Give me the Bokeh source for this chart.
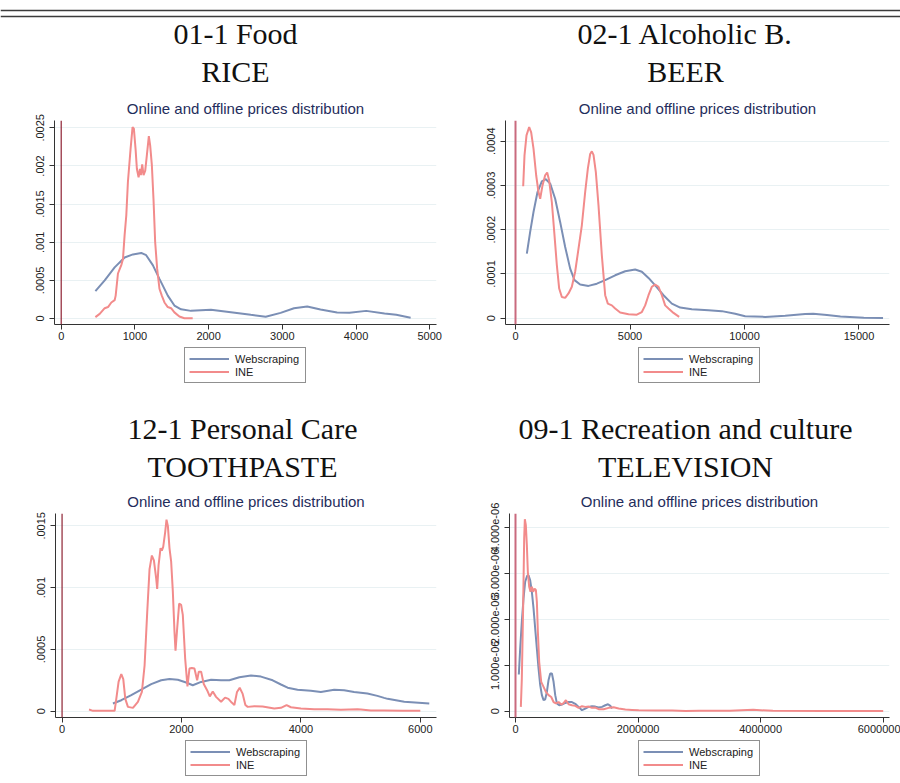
from bokeh.plotting import figure
from bokeh.models import Range1d, FixedTicker, Span, Label, Legend, LegendItem
from bokeh.layouts import column, row
from bokeh.embed import file_html
from bokeh.resources import INLINE

# ---------------- data ----------------
series_names = ["Webscraping", "INE"]
subtitle = "Online and offline prices distribution"

rice_title = ["01-1 Food", "RICE"]
rice_web_x = [464, 590, 725, 860, 973, 1086, 1153, 1243, 1333, 1446, 1536, 1626, 1761, 2032, 2302, 2572,
              2775, 2977, 3158, 3338, 3518, 3743, 3911, 4138, 4387, 4546, 4741]
rice_web_y = [0.000358, 0.0005, 0.00067, 0.0008, 0.00084, 0.00086, 0.00083, 0.0007, 0.00052, 0.0003, 0.00017,
              0.00012, 0.0001, 0.000114, 0.000083, 0.000048, 0.000022, 0.000074, 0.000135, 0.000157, 0.000118,
              0.000079, 0.000075, 0.0001, 0.000066, 0.000048, 0.000009]
rice_ine_x = [464, 522, 590, 635, 680, 725, 739, 770, 815, 838, 860, 883, 905, 941, 968, 986, 1009, 1027, 1050,
              1068, 1081, 1099, 1117, 1140, 1162, 1189, 1207, 1230, 1252, 1275, 1302, 1333, 1365, 1401, 1446,
              1491, 1536, 1604, 1671, 1784]
rice_ine_y = [0.0000175, 0.00006, 0.000135, 0.00015, 0.00021, 0.00024, 0.0003, 0.00059, 0.0007, 0.00078, 0.00109,
              0.00135, 0.00179, 0.00222, 0.00251, 0.00249, 0.00222, 0.00196, 0.00185, 0.00196, 0.00188, 0.00202,
              0.00188, 0.00194, 0.00214, 0.00239, 0.00227, 0.00201, 0.00157, 0.001, 0.00065, 0.00039, 0.0003,
              0.00021, 0.00015, 0.000135, 0.00008, 0.000026, 0.000004, 0.000004]
rice_xticks = [0, 1000, 2000, 3000, 4000, 5000]
rice_xlabels = ["0", "1000", "2000", "3000", "4000", "5000"]
rice_yticks = [0, 0.0005, 0.001, 0.0015, 0.002, 0.0025]
rice_ylabels = ["0", ".0005", ".001", ".0015", ".002", ".0025"]

beer_title = ["02-1 Alcoholic B.", "BEER"]
beer_web_x = [495, 640, 786, 961, 1150, 1325, 1514, 1732, 1951, 2169, 2387, 2576, 2824, 3188, 3552, 3916, 4352,
              4789, 5226, 5517, 5808, 6099, 6463, 6827, 7191, 7700, 8428, 9010, 9593, 10029, 10902, 11776, 12649,
              13000, 13600, 14190, 15210, 16050]
beer_web_y = [0.000146, 0.000195, 0.00024, 0.000285, 0.000309, 0.000314, 0.000304, 0.00027, 0.000217, 0.000161,
              0.000112, 0.000086, 0.000076, 0.000073, 0.000078, 0.000086, 0.000097, 0.000106, 0.00011, 0.000105,
              0.000091, 0.000074, 0.000052, 0.000033, 0.000024, 0.00002, 0.000018, 0.000016, 0.00001, 0.0000045,
              0.000003, 0.0000053, 0.0000095, 0.00001, 0.0000075, 0.0000038, 0.0000008, 0.0000003]
beer_ine_x = [335, 393, 480, 597, 684, 786, 902, 1004, 1077, 1179, 1295, 1383, 1470, 1587, 1703, 1805, 1907, 2023,
              2169, 2314, 2460, 2605, 2751, 2897, 3042, 3159, 3261, 3333, 3406, 3508, 3624, 3770, 3916, 4032, 4207,
              4352, 4571, 4935, 5298, 5517, 5662, 5808, 5953, 6099, 6244, 6390, 6535, 6681, 6899, 7147]
beer_ine_y = [0.000298, 0.000368, 0.000413, 0.000432, 0.00042, 0.000383, 0.000323, 0.000285, 0.00027, 0.0003,
              0.000323, 0.000329, 0.000311, 0.000262, 0.000187, 0.00012, 0.000067, 0.000048, 0.000046, 0.000056,
              0.000071, 0.000105, 0.000157, 0.00021, 0.000285, 0.000338, 0.000371, 0.000377, 0.000369, 0.00033,
              0.000255, 0.000142, 0.000052, 0.000033, 0.000029, 0.000022, 0.000013, 0.000009, 0.000008, 0.000014,
              0.000029, 0.000052, 0.000071, 0.000076, 0.000071, 0.000052, 0.000029, 0.000022, 0.000012, 0.000003]
beer_xticks = [0, 5000, 10000, 15000]
beer_xlabels = ["0", "5000", "10000", "15000"]
beer_yticks = [0, 0.0001, 0.0002, 0.0003, 0.0004]
beer_ylabels = ["0", ".0001", ".0002", ".0003", ".0004"]

tooth_title = ["12-1 Personal Care", "TOOTHPASTE"]
tooth_web_x = [852, 992, 1159, 1326, 1493, 1660, 1799, 1939, 2078, 2189, 2329, 2496, 2663, 2802, 2969, 3164, 3331,
               3527, 3666, 3777, 3944, 4167, 4334, 4557, 4724, 4891, 5114, 5281, 5393, 5452, 5731, 6150]
tooth_web_y = [0.000062, 0.000089, 0.00013, 0.000175, 0.000219, 0.00025, 0.00026, 0.000254, 0.000232, 0.00021,
               0.000237, 0.000254, 0.00025, 0.00025, 0.000275, 0.000289, 0.00028, 0.00025, 0.000216, 0.00019,
               0.000173, 0.000165, 0.000156, 0.000173, 0.00017, 0.000156, 0.000143, 0.000124, 0.000108, 0.0001,
               0.000076, 0.000062]
tooth_ine_x = [451, 518, 657, 880, 908, 947, 992, 1025, 1059, 1103, 1187, 1270, 1337, 1382, 1426, 1465, 1504, 1538,
               1577, 1593, 1616, 1649, 1671, 1694, 1727, 1749, 1772, 1799, 1827, 1855, 1883, 1900, 1928, 1961, 1994,
               2022, 2061, 2100, 2134, 2173, 2217, 2262, 2290, 2329, 2373, 2429, 2474, 2524, 2579, 2663, 2730, 2786,
               2841, 2886, 2930, 2975, 3025, 3070, 3109, 3220, 3359, 3554, 3666, 3760, 3833, 4000, 4223, 4446, 4669,
               4947, 5005, 5170, 5393, 5700, 6000]
tooth_ine_y = [0.0000135, 0.000003, 0.000003, 0.000003, 0.0001, 0.00024, 0.0003, 0.00026, 0.0001, 0.000035,
               0.000027, 0.000076, 0.000156, 0.00037, 0.0008, 0.00115, 0.00126, 0.00122, 0.00107, 0.00099, 0.00118,
               0.00132, 0.0013, 0.00133, 0.00145, 0.00155, 0.0015, 0.00132, 0.00121, 0.00097, 0.00064, 0.00049,
               0.00067, 0.00087, 0.00086, 0.00078, 0.00043, 0.0002, 0.000345, 0.00035, 0.000345, 0.00025, 0.00032,
               0.00032, 0.00022, 0.00017, 0.00012, 0.00016, 0.000116, 0.000076, 0.00011, 0.0001, 0.00007, 0.00005,
               0.000156, 0.00019, 0.00014, 0.00005, 0.000035, 0.00004, 0.000038, 0.000022, 0.000027, 0.00005,
               0.000032, 0.000022, 0.000016, 0.000016, 0.000011, 0.000016, 0.0000135, 0.000005, 0.000005, 0.000003,
               0.000003]
tooth_xticks = [0, 2000, 4000, 6000]
tooth_xlabels = ["0", "2000", "4000", "6000"]
tooth_yticks = [0, 0.0005, 0.001, 0.0015]
tooth_ylabels = ["0", ".0005", ".001", ".0015"]

tv_title = ["09-1 Recreation and culture", "TELEVISION"]
tv_web_x = [54500, 76300, 103500, 130800, 158000, 190700, 212500, 239800, 267000, 294300, 321500, 348800, 376000,
            403300, 430500, 457800, 485000, 512300, 539500, 566800, 594000, 621300, 648500, 675700, 713900, 757500,
            812000, 866500, 921000, 975500, 1030000, 1084500, 1139000, 1193500, 1248000, 1302500, 1357000, 1411500,
            1466000, 1509500, 1547700, 1575000]
tv_web_y = [0.8e-6, 1.36e-6, 1.95e-6, 2.45e-6, 2.82e-6, 2.95e-6, 2.96e-6, 2.85e-6, 2.6e-6, 2.24e-6, 1.8e-6, 1.36e-6,
            0.93e-6, 0.57e-6, 0.35e-6, 0.24e-6, 0.26e-6, 0.42e-6, 0.68e-6, 0.82e-6, 0.82e-6, 0.64e-6, 0.35e-6,
            0.17e-6, 0.13e-6, 0.145e-6, 0.18e-6, 0.2e-6, 0.2e-6, 0.16e-6, 0.094e-6, 0.022e-6, 0.058e-6, 0.094e-6,
            0.109e-6, 0.1e-6, 0.08e-6, 0.094e-6, 0.13e-6, 0.152e-6, 0.116e-6, 0.058e-6]
tv_ine_x = [87200, 103500, 125300, 141700, 152600, 168900, 185300, 201600, 223400, 245200, 267000, 288800, 310600,
            332400, 348800, 365100, 386900, 419600, 457800, 495900, 539500, 583100, 621300, 659400, 703000, 746600,
            784700, 822900, 866500, 921000, 975500, 1030000, 1084500, 1139000, 1193500, 1248000, 1302500, 1357000,
            1438700, 1520500, 1602200, 1683900, 1792900, 1902000, 2011000, 2283000, 2556000, 2774000, 3000000,
            3500000, 3880000, 4200000, 5000000, 6000000]
tv_ine_y = [0.094e-6, 0.71e-6, 2.31e-6, 3.76e-6, 4.18e-6, 4.05e-6, 3.62e-6, 3.03e-6, 2.71e-6, 2.6e-6, 2.71e-6,
            2.6e-6, 2.67e-6, 2.64e-6, 2.38e-6, 1.73e-6, 1.07e-6, 0.64e-6, 0.53e-6, 0.42e-6, 0.35e-6, 0.31e-6,
            0.2e-6, 0.17e-6, 0.2e-6, 0.145e-6, 0.174e-6, 0.24e-6, 0.152e-6, 0.13e-6, 0.116e-6, 0.073e-6, 0.109e-6,
            0.094e-6, 0.1e-6, 0.073e-6, 0.08e-6, 0.044e-6, 0.044e-6, 0.073e-6, 0.087e-6, 0.058e-6, 0.036e-6,
            0.029e-6, 0.022e-6, 0.015e-6, 0.015e-6, 0.007e-6, 0.01e-6, 0.008e-6, 0.03e-6, 0.008e-6, 0.005e-6,
            0.003e-6]
tv_xticks = [0, 2000000, 4000000, 6000000]
tv_xlabels = ["0", "2000000", "4000000", "6000000"]
tv_yticks = [0, 1e-06, 2e-06, 3e-06, 4e-06]
tv_ylabels = ["0", "1.000e-06", "2.000e-06", "3.000e-06", "4.000e-06"]

# ---------------- style ----------------
WEB_COLOR = "#7b8fb5"
INE_COLOR = "#f28b8b"
SANS = "Liberation Sans"
SERIF = "Liberation Serif"
NAN = float("nan")


def bare_figure(W, H):
    f = figure(width=W, height=H, x_range=Range1d(0, W), y_range=Range1d(0, H),
               x_axis_type=None, y_axis_type=None, output_backend="svg", toolbar_location=None,
               min_border=0)
    f.outline_line_color = None
    f.background_fill_color = "white"
    f.border_fill_color = "white"
    return f


def make_panel(W, H, left, top, fw, fh, xr, yr, xt, xl, yt, yl, wx, wy, ix, iy, vcolor, vwidth):
    p = figure(width=W, height=H, x_range=Range1d(*xr), y_range=Range1d(*yr),
               output_backend="svg", toolbar_location=None,
               min_border_left=left, min_border_top=top,
               min_border_right=W - left - fw, min_border_bottom=H - top - fh)
    p.outline_line_color = None
    p.background_fill_color = "white"
    p.border_fill_color = "white"
    p.xgrid.visible = False
    p.ygrid.ticker = FixedTicker(ticks=yt)
    p.ygrid.grid_line_color = "#e9f1f3"
    p.ygrid.grid_line_width = 1

    p.title.text = subtitle
    p.title.align = "center"
    p.title.text_font = SANS
    p.title.text_font_size = "15px"
    p.title.text_font_style = "normal"
    p.title.text_color = "#1f2d5c"
    p.title.standoff = 7

    for ax, ticks, labels in ((p.xaxis[0], xt, xl), (p.yaxis[0], yt, yl)):
        ax.ticker = FixedTicker(ticks=ticks)
        ax.major_label_overrides = {t: s for t, s in zip(ticks, labels)}
        ax.minor_tick_line_color = None
        ax.major_tick_in = 0
        ax.major_tick_out = 5
        ax.axis_line_color = "#333333"
        ax.major_tick_line_color = "#333333"
        ax.major_label_text_font = SANS
        ax.major_label_text_font_size = "11px"
        ax.major_label_text_color = "#222222"
    p.xaxis.major_label_standoff = 2
    p.yaxis.major_label_standoff = 5
    p.yaxis.major_label_orientation = "vertical"

    p.add_layout(Span(location=0, dimension="height", line_color=vcolor, line_width=vwidth))
    p.line(wx, wy, line_color=WEB_COLOR, line_width=2)
    p.line(ix, iy, line_color=INE_COLOR, line_width=2)
    return p


def make_header(H, left_title, right_title, left_cx, right_cx, with_rules):
    h = bare_figure(900, H)
    if with_rules:
        h.add_layout(Span(location=H - 10, dimension="width", line_color="#3c3c3c", line_width=1.6))
        h.add_layout(Span(location=H - 16, dimension="width", line_color="#3c3c3c", line_width=1.6))
    for cx, lines in ((left_cx, left_title), (right_cx, right_title)):
        for cy, txt in ((57, lines[0]), (19.5, lines[1])):
            h.add_layout(Label(x=cx, y=cy, x_units="screen", y_units="screen", text=txt,
                               text_align="center", text_baseline="middle", text_font=SERIF,
                               text_font_size="30px", text_color="#111111"))
    return h


def make_footer(H, positions):
    # legend-only strip; the sample renderers hold no visible data
    f = bare_figure(900, H)
    for vx, vy in positions:
        r_web = f.line(x=[NAN], y=[NAN], line_color=WEB_COLOR, line_width=2)
        r_ine = f.line(x=[NAN], y=[NAN], line_color=INE_COLOR, line_width=2)
        leg = Legend(items=[LegendItem(label=series_names[0], renderers=[r_web]),
                            LegendItem(label=series_names[1], renderers=[r_ine])],
                     location=(vx, vy), orientation="vertical", padding=4, spacing=0, margin=0,
                     glyph_width=40, glyph_height=13, label_height=13, label_width=66, label_standoff=6,
                     label_text_font=SANS, label_text_font_size="11px", label_text_color="#222222",
                     border_line_color="#222222", border_line_width=1,
                     background_fill_color="white", background_fill_alpha=1)
        f.add_layout(leg)
    return f


head1 = make_header(90, rice_title, beer_title, 235, 685, True)
p1 = make_panel(450, 256, 54, 30, 382, 204, (-91, 5092), (-0.0000787, 0.002596),
                rice_xticks, rice_xlabels, rice_yticks, rice_ylabels,
                rice_web_x, rice_web_y, rice_ine_x, rice_ine_y, "#8e2233", 1.2)
p2 = make_panel(450, 256, 55, 30, 384, 204, (-437, 16332), (-0.0000142, 0.0004467),
                beer_xticks, beer_xlabels, beer_yticks, beer_ylabels,
                beer_web_x, beer_web_y, beer_ine_x, beer_ine_y, "#c96a7e", 2)
foot1 = make_footer(54, [(184, 17), (638, 17)])
head2 = make_header(85, tooth_title, tv_title, 242, 685, False)
p3 = make_panel(450, 255, 55, 28, 381, 204, (-110, 6271), (-0.000051, 0.0016),
                tooth_xticks, tooth_xlabels, tooth_yticks, tooth_ylabels,
                tooth_web_x, tooth_web_y, tooth_ine_x, tooth_ine_y, "#8e2233", 1.2)
p4 = make_panel(450, 255, 59, 28, 380, 204, (-97800, 6103000), (-1.37e-7, 4.305e-6),
                tv_xticks, tv_xlabels, tv_yticks, tv_ylabels,
                tv_web_x, tv_web_y, tv_ine_x, tv_ine_y, "#c96a7e", 2)
foot2 = make_footer(42, [(185, 6), (638, 6)])

layout = column(head1, row(p1, p2), foot1, head2, row(p3, p4), foot2)
open("out.html", "w").write(file_html(layout, INLINE))
